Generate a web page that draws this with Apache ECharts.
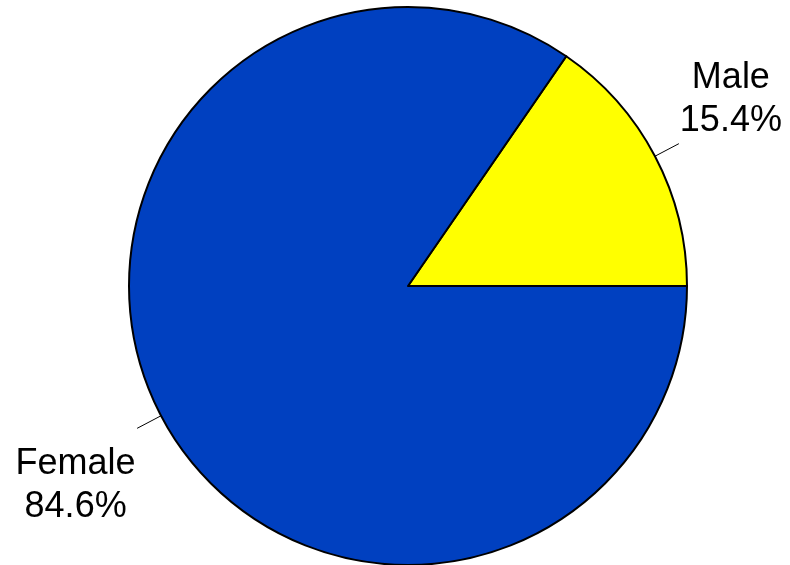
<!DOCTYPE html>
<html>
<head>
<meta charset="utf-8">
<script src="https://cdn.jsdelivr.net/npm/echarts@6/dist/echarts.min.js"></script>
<style>
html,body{margin:0;padding:0;background:#fff;}
#chart{width:790px;height:565px;}
</style>
</head>
<body>
<div id="chart"></div>
<script>
// data
var categories = ['Male', 'Female'];
var shares = [15.4, 84.6];
var colors = ['#FFFF00', '#0040C0'];

// label box tweaks so text sits beside the line end like the original
var labelBox = {
	Male: { width: 102, padding: [0, 0, 88, 0] },
	Female: { width: 121, padding: [114, 0, 0, 0] }
};

var chart = echarts.init(document.getElementById('chart'));

// build pie data
var seriesData = [];
for (var i = 0; i < categories.length; i++) {
	var box = labelBox[categories[i]];
	seriesData.push({
		name: categories[i],
		value: shares[i],
		itemStyle: { color: colors[i] },
		label: {
			padding: box.padding,
			rich: {
				n: { fontSize: 36, lineHeight: 43, width: box.width, align: 'center', color: '#000', fontFamily: 'Liberation Sans, Arial, sans-serif' }
			}
		}
	});
}

var option = {
	animation: false,
	series: [{
		type: 'pie',
		center: [408, 286],
		radius: 279,
		startAngle: 55.44,
		clockwise: true,
		avoidLabelOverlap: false,
		itemStyle: { borderColor: '#000', borderWidth: 2 },
		label: {
			show: true,
			position: 'outside',
			distanceToLabelLine: 1,
			formatter: function(p){
				return '{n|' + p.name + '}\n{n|' + p.value.toFixed(1) + '%}';
			}
		},
		labelLine: {
			show: true,
			length: 27,
			length2: 0,
			smooth: false,
			lineStyle: { color: '#000', width: 1 }
		},
		emphasis: { disabled: true },
		data: seriesData
	}]
};
chart.setOption(option);
</script>
</body>
</html>
